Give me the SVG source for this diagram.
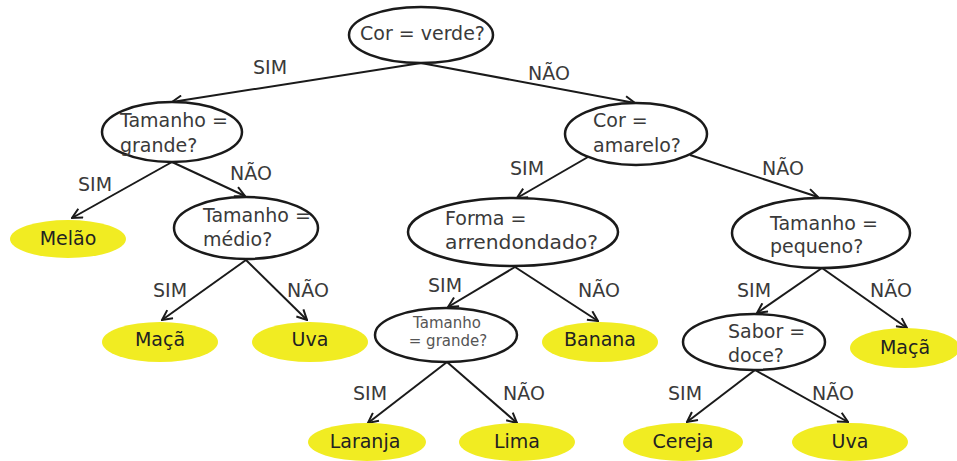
<svg xmlns="http://www.w3.org/2000/svg" width="957" height="461" viewBox="0 0 957 461">
<style>
.q{fill:#fff;stroke:#1a1a1a;stroke-width:2.5}
.leaf{fill:#F1EC22;stroke:none}
.t{font-family:"DejaVu Sans","Liberation Sans",sans-serif;font-size:19px;fill:#3a3a3a}
.lt{font-family:"DejaVu Sans","Liberation Sans",sans-serif;font-size:19px;fill:#222;text-anchor:middle}
.st{font-family:"DejaVu Sans","Liberation Sans",sans-serif;font-size:15px;fill:#555;text-anchor:middle}
.lab{font-family:"DejaVu Sans","Liberation Sans",sans-serif;font-size:19px;fill:#3a3a3a}
.e{stroke:#1a1a1a;stroke-width:2;fill:none;marker-end:url(#arr)}
</style>
<defs>
<marker id="arr" viewBox="0 0 12 12" refX="11" refY="6" markerWidth="12" markerHeight="12" markerUnits="userSpaceOnUse" orient="auto">
<path d="M1,1 L11,6 L1,11" fill="none" stroke="#1a1a1a" stroke-width="2"/>
</marker>
</defs>
<g id="connectors">
<line class="e" x1="421" y1="63" x2="172" y2="102"/>
<line class="e" x1="421" y1="63" x2="635" y2="103"/>
<line class="e" x1="172" y1="162" x2="72" y2="218"/>
<line class="e" x1="172" y1="162" x2="245" y2="196"/>
<line class="e" x1="246" y1="260" x2="162" y2="320"/>
<line class="e" x1="246" y1="260" x2="307" y2="320"/>
<line class="e" x1="588" y1="157" x2="517" y2="198"/>
<line class="e" x1="690" y1="155" x2="818" y2="197"/>
<line class="e" x1="515" y1="267" x2="448" y2="307"/>
<line class="e" x1="515" y1="267" x2="598" y2="321"/>
<line class="e" x1="447" y1="362" x2="368" y2="423"/>
<line class="e" x1="447" y1="362" x2="517" y2="423"/>
<line class="e" x1="822" y1="268" x2="757" y2="313"/>
<line class="e" x1="822" y1="268" x2="907" y2="328"/>
<line class="e" x1="755" y1="370" x2="687" y2="422"/>
<line class="e" x1="755" y1="370" x2="848" y2="422"/>
</g>
<g id="labels">
<text class="lab" x="253" y="74">SIM</text>
<text class="lab" x="528" y="80">NÃO</text>
<text class="lab" x="78" y="191">SIM</text>
<text class="lab" x="230" y="180">NÃO</text>
<text class="lab" x="153" y="297">SIM</text>
<text class="lab" x="287" y="297">NÃO</text>
<text class="lab" x="510" y="175">SIM</text>
<text class="lab" x="762" y="175">NÃO</text>
<text class="lab" x="428" y="292">SIM</text>
<text class="lab" x="578" y="297">NÃO</text>
<text class="lab" x="737" y="297">SIM</text>
<text class="lab" x="870" y="297">NÃO</text>
<text class="lab" x="353" y="400">SIM</text>
<text class="lab" x="503" y="400">NÃO</text>
<text class="lab" x="668" y="400">SIM</text>
<text class="lab" x="812" y="400">NÃO</text>
</g>
<g id="n_cor_verde">
<ellipse class="q" cx="421" cy="35" rx="72" ry="28"/>
<text class="t" x="360" y="40">Cor = verde?</text>
</g>
<g id="n_tam_grande">
<ellipse class="q" cx="172" cy="132" rx="70" ry="30"/>
<text class="t" x="120" y="127">Tamanho =</text>
<text class="t" x="120" y="152">grande?</text>
</g>
<g id="n_melao">
<ellipse class="leaf" cx="68" cy="239" rx="58" ry="19"/>
<text class="lt" x="68" y="245">Melão</text>
</g>
<g id="n_tam_medio">
<ellipse class="q" cx="246" cy="228" rx="72" ry="31"/>
<text class="t" x="203" y="222">Tamanho =</text>
<text class="t" x="203" y="246">médio?</text>
</g>
<g id="n_maca1">
<ellipse class="leaf" cx="160" cy="342" rx="58" ry="20"/>
<text class="lt" x="160" y="346">Maçã</text>
</g>
<g id="n_uva1">
<ellipse class="leaf" cx="310" cy="342" rx="58" ry="20"/>
<text class="lt" x="310" y="346">Uva</text>
</g>
<g id="n_cor_amarelo">
<ellipse class="q" cx="636" cy="134" rx="71" ry="31"/>
<text class="t" x="593" y="127">Cor =</text>
<text class="t" x="593" y="152">amarelo?</text>
</g>
<g id="n_forma">
<ellipse class="q" cx="513" cy="232" rx="105" ry="34"/>
<text class="t" x="445" y="225">Forma =</text>
<text class="t" x="445" y="249" textLength="153" lengthAdjust="spacingAndGlyphs">arrendondado?</text>
</g>
<g id="n_tam_grande2">
<ellipse class="q" cx="446" cy="335" rx="71" ry="27"/>
<text class="st" x="447" y="328">Tamanho</text>
<text class="st" x="448" y="346">= grande?</text>
</g>
<g id="n_banana">
<ellipse class="leaf" cx="600" cy="342" rx="58" ry="20"/>
<text class="lt" x="600" y="346">Banana</text>
</g>
<g id="n_laranja">
<ellipse class="leaf" cx="367" cy="442" rx="59" ry="19"/>
<text class="lt" x="365" y="448">Laranja</text>
</g>
<g id="n_lima">
<ellipse class="leaf" cx="517" cy="442" rx="58" ry="19"/>
<text class="lt" x="517" y="448">Lima</text>
</g>
<g id="n_tam_pequeno">
<ellipse class="q" cx="821" cy="233" rx="89" ry="35"/>
<text class="t" x="770" y="230">Tamanho =</text>
<text class="t" x="770" y="253">pequeno?</text>
</g>
<g id="n_sabor">
<ellipse class="q" cx="754" cy="342" rx="71" ry="28"/>
<text class="t" x="728" y="338">Sabor =</text>
<text class="t" x="728" y="362">doce?</text>
</g>
<g id="n_maca2">
<ellipse class="leaf" cx="905" cy="348" rx="55" ry="20"/>
<text class="lt" x="905" y="354">Maçã</text>
</g>
<g id="n_cereja">
<ellipse class="leaf" cx="683" cy="442" rx="60" ry="19"/>
<text class="lt" x="683" y="448">Cereja</text>
</g>
<g id="n_uva2">
<ellipse class="leaf" cx="850" cy="442" rx="58" ry="19"/>
<text class="lt" x="850" y="448">Uva</text>
</g>
</svg>
